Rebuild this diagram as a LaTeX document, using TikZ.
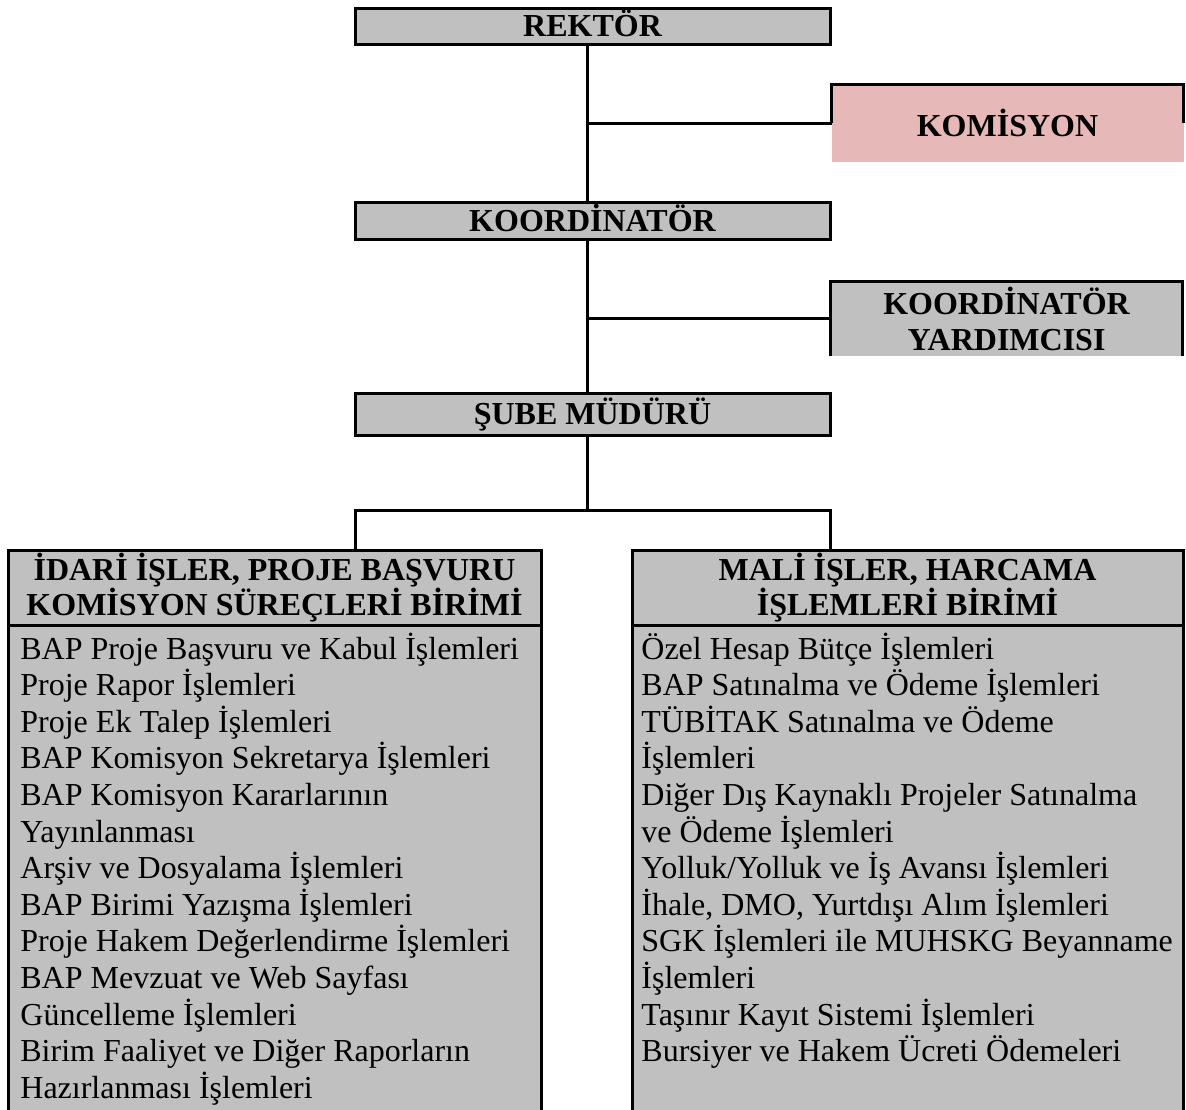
\documentclass[tikz,border=0pt]{standalone}
\usepackage{fontspec}
\setmainfont{Liberation Serif}
\usetikzlibrary{positioning}
\definecolor{unitgray}{RGB}{192,192,192}
\definecolor{kompink}{RGB}{230,184,183}

\begin{document}
\begin{tikzpicture}[x=0.5pt, y=-0.5pt,
    line/.style={line width=1.5pt},
    unit/.style={draw, line width=1.5pt, fill=unitgray, minimum width=237.5pt, inner sep=0pt, outer sep=0pt, text height=10.8pt, text depth=0pt, font=\bfseries\fontsize{16}{18}\selectfont},
    side/.style={fill=#1, minimum width=176pt, inner sep=0pt, outer sep=0pt, align=center, font=\bfseries\fontsize{16}{18}\selectfont},
    head/.style={draw, line width=1.5pt, fill=unitgray, minimum height=37.5pt, inner sep=0pt, outer sep=0pt, align=center, font=\bfseries\fontsize{16}{17.5}\selectfont},
    listbox/.style={draw, line width=1.5pt, fill=unitgray, minimum height=250pt, inner sep=0pt, outer sep=0pt},
    task/.style={anchor=base west, inner sep=0pt, font=\fontsize{16}{18.3}\selectfont}
  ]
  \useasboundingbox (0,0) rectangle (1186,1109);

  % top of the chart
  \node[unit, minimum height=18pt] (rektor) at (592.5,26) {REKTÖR};
  \node[side=kompink, minimum height=38.5pt] (kom) at (1007.5,123) {KOMİSYON};
  \draw[line] (kom.west) -- (kom.north west) -- (kom.north east) -- (kom.east);
  \node[unit, minimum height=18.5pt] (koord) at (592.5,220.5) {KOORDİNATÖR};
  \node[side=unitgray, minimum height=37.5pt] (yard) at (1006.5,318.5) {KOORDİNATÖR\\YARDIMCISI};
  \draw[line] (yard.south west) -- (yard.north west) -- (yard.north east) -- (yard.south east);
  \node[unit, minimum height=21pt] (sube) at (592.5,414) {ŞUBE MÜDÜRÜ};

  % units
  \node[head, minimum width=266.5pt] (idari) at (274.5,587.5) {İDARİ İŞLER, PROJE BAŞVURU\\KOMİSYON SÜREÇLERİ BİRİMİ};
  \node[head, minimum width=275.5pt] (mali) at (907.5,587.5) {MALİ İŞLER, HARCAMA\\İŞLEMLERİ BİRİMİ};
  \node[listbox, minimum width=266.5pt, below=0pt of idari] (idariList) {};
  \node[listbox, minimum width=275.5pt, below=0pt of mali] (maliList) {};

  % connectors
  \coordinate (spine) at (587,0);
  \draw[line] (rektor.south -| spine) -- (koord.north -| spine);
  \draw[line] (kom.west -| spine) -- (kom.west);
  \draw[line] (koord.south -| spine) -- (sube.north -| spine);
  \draw[line] (yard.west -| spine) -- (yard.west);
  \coordinate (bus) at (587,510);
  \draw[line] (sube.south -| spine) -- (bus);
  \draw[line] (sube.south west |- idari.north) |- (bus) -| (sube.south east |- mali.north);

  % tasks
  \foreach \t [count=\i] in {BAP Proje Başvuru ve Kabul İşlemleri, Proje Rapor İşlemleri,
      Proje Ek Talep İşlemleri, BAP Komisyon Sekretarya İşlemleri, BAP Komisyon Kararlarının,
      Yayınlanması, Arşiv ve Dosyalama İşlemleri, BAP Birimi Yazışma İşlemleri,
      Proje Hakem Değerlendirme İşlemleri, BAP Mevzuat ve Web Sayfası, Güncelleme İşlemleri,
      Birim Faaliyet ve Diğer Raporların, Hazırlanması İşlemleri}
    \node[task] (idari-\i) at (20,{659+36.6*(\i-1)}) {\t};
  \foreach \t [count=\i] in {Özel Hesap Bütçe İşlemleri, BAP Satınalma ve Ödeme İşlemleri,
      TÜBİTAK Satınalma ve Ödeme, İşlemleri, Diğer Dış Kaynaklı Projeler Satınalma,
      ve Ödeme İşlemleri, Yolluk/Yolluk ve İş Avansı İşlemleri,
      {İhale, DMO, Yurtdışı Alım İşlemleri}, SGK İşlemleri ile MUHSKG Beyanname,
      İşlemleri, Taşınır Kayıt Sistemi İşlemleri, Bursiyer ve Hakem Ücreti Ödemeleri}
    \node[task] (mali-\i) at (641,{659+36.6*(\i-1)}) {\t};
\end{tikzpicture}
\end{document}
